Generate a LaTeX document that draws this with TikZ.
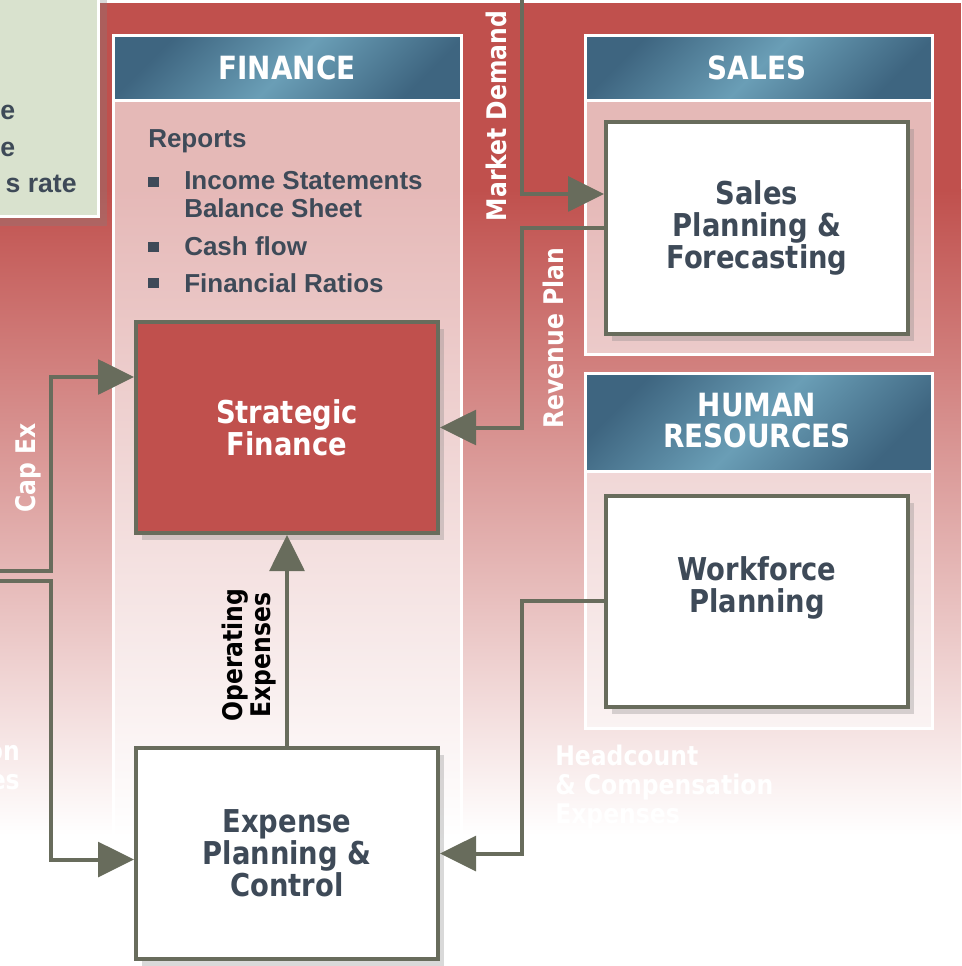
\documentclass[tikz,border=0pt]{standalone}
\usepackage{fontspec}
\usepackage{tikz}
\usetikzlibrary{arrows.meta,calc,positioning}
\newfontfamily\tahfont[FakeStretch=0.87]{DejaVu Sans}
\newfontfamily\arifont{Liberation Sans}
\definecolor{bgred}{RGB}{192,80,77}
\definecolor{sage}{RGB}{217,226,206}
\definecolor{slate}{RGB}{62,74,88}
\definecolor{olive}{RGB}{104,108,92}
\definecolor{hdark}{RGB}{62,101,128}
\definecolor{hlight}{RGB}{106,158,182}

\begin{document}
\begin{tikzpicture}[x=0.75pt,y=0.75pt,yscale=-1,xscale=1,
	hdr/.style={draw=white,line width=2.25pt,top color=hdark,bottom color=hdark,middle color=hlight,shading angle=45},
	panel/.style={draw=white,line width=2.25pt,fill=white,fill opacity=.6},
	box/.style={draw=olive,line width=3pt,fill=white,minimum width=226.5pt,minimum height=158.25pt,inner sep=0pt,align=center,text=slate,font=\tahfont\bfseries\fontsize{23.6}{24}\selectfont,preaction={fill=black!50,fill opacity=.3,transform canvas={shift={(4.5pt,-5.25pt)}}}},
	hdtext/.style={text=white,align=center,inner sep=0pt,font=\tahfont\bfseries\fontsize{24}{23.3}\selectfont},
	lbl/.style={text=white,rotate=90,anchor=base,inner sep=0pt,font=\tahfont\bfseries\fontsize{20.25}{21.5}\selectfont},
	rep/.style={text=slate,anchor=base west,inner sep=0pt,font=\arifont\bfseries\fontsize{19.5}{21}\selectfont},
	flow/.style={draw=olive,line width=3pt},
	arr/.style={-{Triangle[length=27pt,width=26pt]}}]
	\useasboundingbox (0,0) rectangle (961,966);
	\clip (0,0) rectangle (961,966);

	%Background
	\fill[bgred] (0,3) rectangle (961,190);
	\shade[top color=bgred,bottom color=white] (0,189.5) rectangle (961,835);

	%Green note (cut off)
	\fill[black!50,opacity=.3] (-4,-3) rectangle (107,226);
	\draw[white,line width=2.25pt,fill=sage] (-10,-10) rectangle (98.5,216.5);
	\node[rep,anchor=base east,font=\arifont\bfseries\fontsize{20}{21}\selectfont] (gn1) at (15.5,120) {e};
	\node[rep,anchor=base east,font=\arifont\bfseries\fontsize{20}{21}\selectfont] (gn2) at (15.5,157) {e};
	\node[rep,anchor=base east,font=\arifont\bfseries\fontsize{20}{21}\selectfont] (gn3) at (77,193) {s rate};

	%Panels
	\draw[panel] (113.5,100.5) rectangle (461.5,836);
	\draw[hdr] (113.5,35.5) rectangle (461.5,100.5);
	\draw[panel] (585.5,100.5) rectangle (932.5,354);
	\draw[hdr] (585.5,35.5) rectangle (932.5,100.5);
	\draw[panel] (585.5,471.5) rectangle (932.5,728);
	\draw[hdr] (585.5,373.5) rectangle (932.5,471.5);

	% Text Node
	\node[hdtext] (fint) at (287,68) {FINANCE};
	\node[hdtext] (salt) at (757,68) {SALES};
	\node[hdtext] (hrt) at (757,421) {HUMAN\\RESOURCES};

	%Reports list
	\node[rep] (rep) at (148,148) {Reports};
	\fill[slate] (148,177) rectangle (159,187);
	\fill[slate] (148,242) rectangle (159,252);
	\fill[slate] (148,278) rectangle (159,288);
	\node[rep] (inc) at (184,190) {Income Statements};
	\node[rep] (bal) at (184,218) {Balance Sheet};
	\node[rep] (cash) at (184,255) {Cash flow};
	\node[rep] (ratio) at (184,292) {Financial Ratios};

	%Boxes
	\node[box,fill=bgred,text=white] (sf) at (287,427.5) {Strategic\\Finance};
	\node[box] (ex) at (287,853.5) {Expense\\Planning \&\\Control};
	\node[box] (sp) at (757,228) {Sales\\Planning \&\\Forecasting};
	\node[box] (wf) at (757,601) {Workforce\\Planning\\\mbox{}};

	%Connectors
	\coordinate (md) at (522,0);
	\coordinate (cx) at (0,571);
	\coordinate (ox) at (0,580.5);
	\draw[flow,arr] (md) |- ($(sp.west)+(0,-34)$);
	\draw[flow,arr] (sp.west) -| ($(sf.east)+(82,0)$) -- (sf.east);
	\draw[flow,arr] (cx) -| ($(sf.west)+(-83,-50.5)$) -- ($(sf.west)+(0,-50.5)$);
	\draw[flow,arr] (ox) -| ($(ex.west)+(-83,6)$) -- ($(ex.west)+(0,6)$);
	\draw[flow,arr] (ex.north) -- (sf.south);
	\draw[flow,arr] (wf.west) -| ($(ex.east)+(82,0)$) -- (ex.east);

	%Connector labels
	\node[lbl] (mdl) at (506,116) {Market Demand};
	\node[lbl] (rpl) at (563,338) {Revenue Plan};
	\node[lbl] (cxl) at (35,468) {Cap Ex};
	\node[lbl,text=black,anchor=center,align=center] (opl) at (249,655) {Operating\\Expenses};
	\node[lbl,rotate=-90,anchor=north west,align=left] (hcl) at (555,745) {Headcount\\\& Compensation\\Expenses};
	\node[lbl,rotate=-90,anchor=north east,align=right] (lfl) at (20,745) {on\\es};
\end{tikzpicture}
\end{document}
